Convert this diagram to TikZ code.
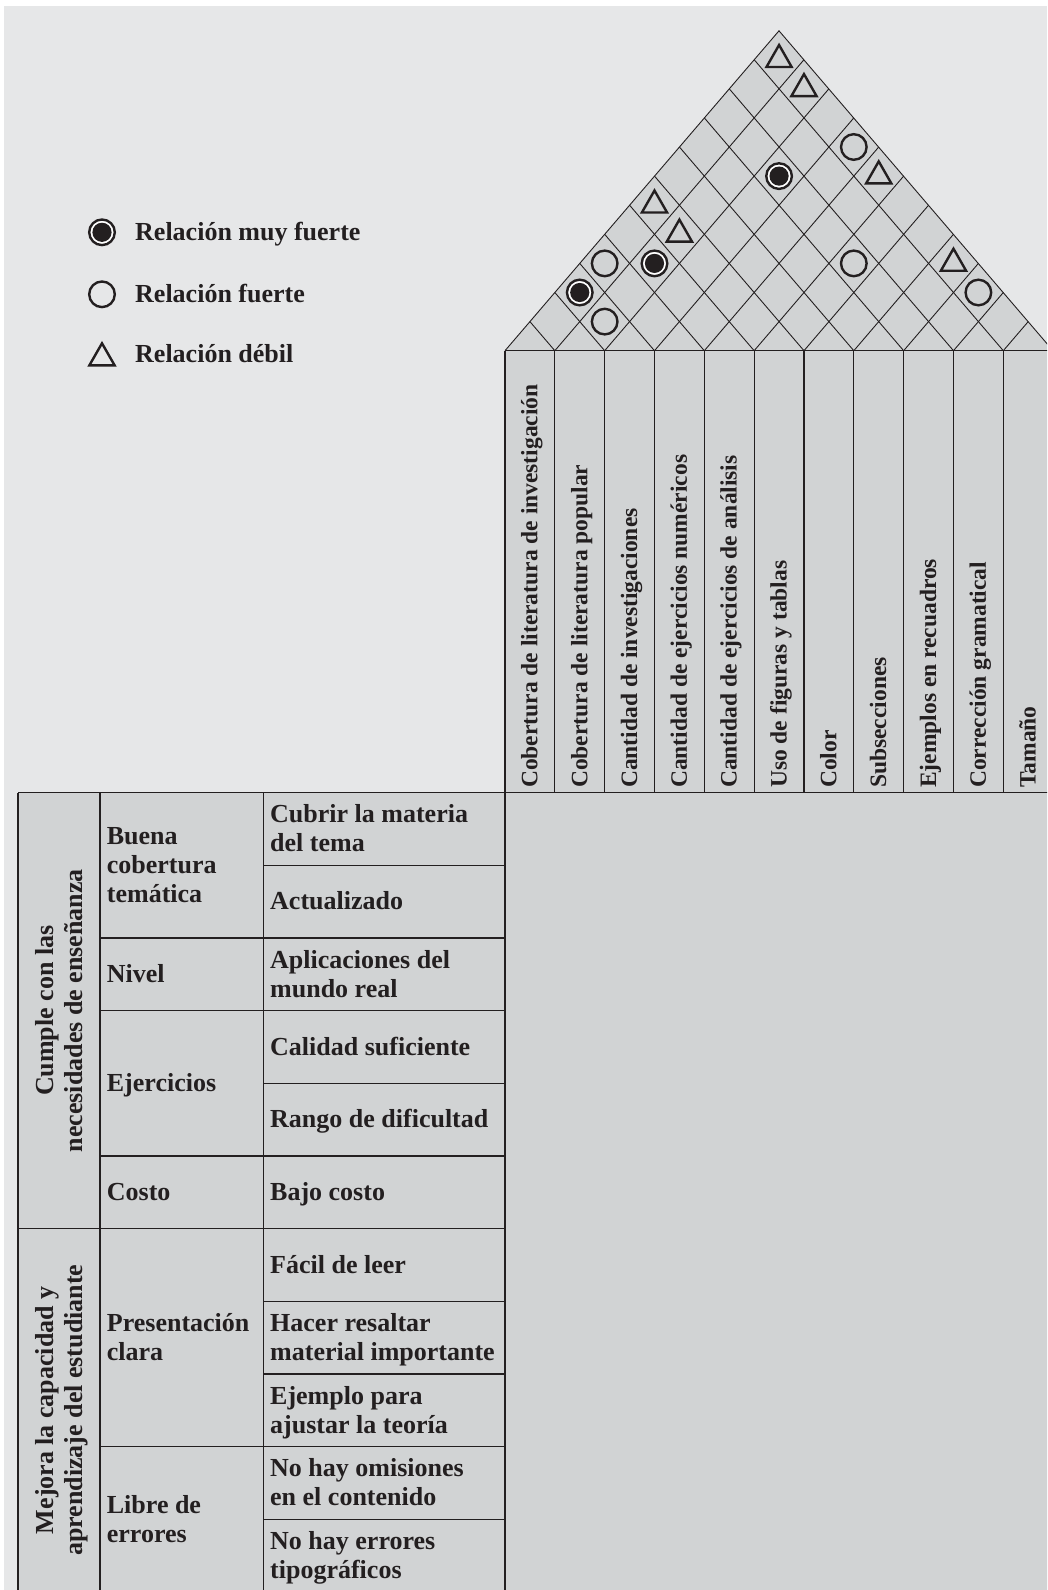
\documentclass[tikz,border=0pt]{standalone}
\usepackage{fontspec}
\setmainfont{Liberation Serif}
\definecolor{bg}{HTML}{E6E7E8}
\definecolor{cell}{HTML}{D1D3D4}
\definecolor{ink}{HTML}{231F20}
\newcommand\tfont{\fontsize{26}{29}\selectfont\bfseries}
\newcommand\hfont{\fontsize{23.5}{28}\selectfont\bfseries}
\newcommand\ms{\rule[-6pt]{0pt}{28.6pt}}
\newcommand\hs{\rule[-5.4pt]{0pt}{25.8pt}}
\begin{document}
\begin{tikzpicture}[x=1pt,y=-1pt,
  tline/.style={draw=ink,line width=1.3pt},
  gline/.style={draw=ink,line width=0.9pt},
  ttxt/.style={inner sep=0pt,anchor=west,align=left,font=\tfont,text=ink},
  htxt/.style={inner sep=0pt,anchor=west,rotate=90,font=\hfont,text=ink},
  gtxt/.style={inner sep=0pt,rotate=90,align=center,font=\tfont,text=ink},
  vstrong/.pic={\draw[draw=ink,fill=white,line width=2.4pt] (0,0) circle[radius=12.8pt];
                \fill[ink] (0,0) circle[radius=9.6pt];},
  strong/.pic={\draw[draw=ink,line width=2.4pt] (0,0) circle[radius=12.8pt];},
  weak/.pic={\draw[draw=ink,line width=2.4pt,line join=miter] (0,-14.7) -- (12.6,7.3) -- (-12.6,7.3) -- cycle;},
]
\useasboundingbox (0,0) rectangle (1047,1590);
\clip (0,0) rectangle (1047,1590);
\def\W{49.83}\def\S{1.168}\def\B{350.7}\def\X{505}
% background
\fill[white] (0,0) rectangle (1047,1590);
\fill[bg] (4,6) rectangle (1047,1590);
% gray areas
\fill[cell] (18,792.7) rectangle (1060,1600);
\fill[cell] (505,350.7) rectangle (1060,792.7);
\fill[cell] (505,350.7) -- (779,30.8) -- (1053,350.7) -- cycle;
% roof grid
\foreach \k in {1,...,10}{
  \draw[gline] ({\X+\k*\W},\B) -- ({\X+\k*\W/2},{\B-\S*\k*\W/2});
  \draw[gline] ({\X+\k*\W},\B) -- ({\X+(\k+11)*\W/2},{\B-\S*(11-\k)*\W/2});
}
\draw[gline] (505,350.7) -- (779,30.8) -- (1053,350.7);
% header cells
\draw[tline] (505,350.7) -- (1060,350.7);
\foreach \k in {0,...,10}{
  \draw[tline] ({\X+\k*\W},350.7) -- ({\X+\k*\W},792.7);
}
\foreach \t [count=\k] in {Cobertura de literatura de investigación,
  Cobertura de literatura popular, Cantidad de investigaciones,
  Cantidad de ejercicios numéricos, Cantidad de ejercicios de análisis,
  Uso de figuras y tablas, Color, Subsecciones, Ejemplos en recuadros,
  Corrección gramatical, Tamaño}{
  \node[htxt] (h\k) at ({\X+(\k-0.5)*\W},788) {\hs\t};
}
% roof symbols
\foreach \i/\j/\s in {1/11/weak, 2/11/weak, 4/11/strong, 5/11/weak, 3/9/vstrong,
  1/6/weak, 2/6/weak, 1/4/strong, 2/5/vstrong, 1/3/vstrong, 2/3/strong,
  6/9/strong, 8/11/weak, 9/11/strong}{
  \pic at ({\X+(\i+\j-1)*\W/2},{\B-\S*(\j-\i)*\W/2}) {\s};
}
% legend
\pic at (102,232.3) {vstrong};
\pic at (102,294.3) {strong};
\pic at (102,358) {weak};
\node[inner sep=0pt,anchor=base west,font=\tfont,text=ink] (l1) at (135,240) {Relación muy fuerte};
\node[inner sep=0pt,anchor=base west,font=\tfont,text=ink] (l2) at (135,302) {Relación fuerte};
\node[inner sep=0pt,anchor=base west,font=\tfont,text=ink] (l3) at (135,362) {Relación débil};
% left table lines
\draw[tline] (18,792.7) -- (1060,792.7);
\draw[tline] (18,792.7) -- (18,1600);
\draw[tline] (100,792.7) -- (100,1600);
\draw[tline] (263.3,792.7) -- (263.3,1600);
\draw[tline] (505,792.7) -- (505,1600);
\draw[tline] (18,1228.6) -- (505,1228.6);
\foreach \r in {2,3,5,9}{
  \draw[tline] (100,{792.7+72.65*\r}) -- (505,{792.7+72.65*\r});
}
\foreach \r in {1,4,7,8,10}{
  \draw[tline] (263.3,{792.7+72.65*\r}) -- (505,{792.7+72.65*\r});
}
% right column texts
\foreach \t [count=\r from 0] in {{Cubrir la materia\\del tema}, Actualizado,
  {Aplicaciones del\\mundo real}, Calidad suficiente, Rango de dificultad,
  Bajo costo, Fácil de leer, {Hacer resaltar\\material importante},
  {Ejemplo para\\ajustar la teoría}, {No hay omisiones\\en el contenido},
  {No hay errores\\tipográficos}}{
  \node[ttxt] (r\r) at (270,{792.7+72.65*(\r+0.5)}) {\ms\t\ms};
}
% middle column texts
\node[ttxt] (m1) at (106.7,865.4) {\ms Buena\\cobertura\\temática\ms};
\node[ttxt] (m2) at (106.7,974.3) {\ms Nivel\ms};
\node[ttxt] (m3) at (106.7,1083.0) {\ms Ejercicios\ms};
\node[ttxt] (m4) at (106.7,1192.3) {\ms Costo\ms};
\node[ttxt] (m5) at (106.7,1337.6) {\ms Presentación\\clara\ms};
\node[ttxt] (m6) at (106.7,1519.2) {\ms Libre de\\errores\ms};
% group texts
\node[gtxt] (g1) at (59.5,1010.7) {\ms Cumple con las\\necesidades de enseñanza\ms};
\node[gtxt] (g2) at (59.5,1410.2) {\ms Mejora la capacidad y\\aprendizaje del estudiante\ms};
\end{tikzpicture}
\end{document}
